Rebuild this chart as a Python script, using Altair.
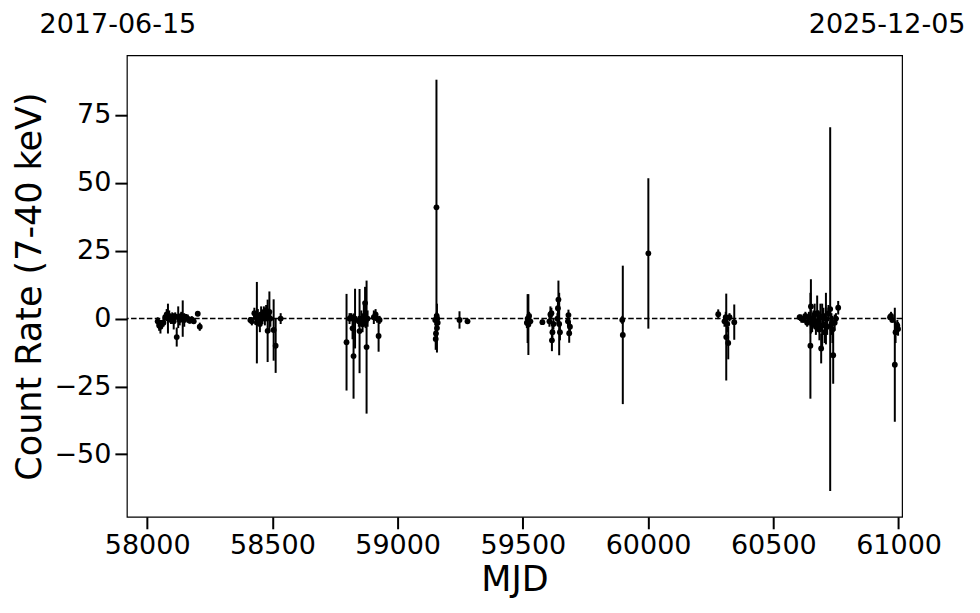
import altair as alt
import pandas as pd

mjd = [
    58042, 58048, 58053, 58058, 58065, 58072, 58078, 58083, 58088, 58095, 58100, 58106, 58112,
    58118, 58124, 58130, 58136, 58142, 58148, 58155, 58162, 58170, 58178, 58186, 58202, 58210,
    58412, 58418, 58428, 58434, 58438, 58442, 58446, 58450, 58455, 58460, 58466, 58470, 58475,
    58478, 58481, 58488, 58492, 58505, 58513, 58533,
    58796, 58808, 58814, 58820, 58824, 58830, 58845, 58848, 58855, 58860, 58865, 58870, 58872,
    58876, 58880, 58905, 58912, 58918, 58924, 58928,
    59150, 59152, 59153, 59155, 59156, 59157, 59158, 59160, 59247, 59279,
    59516, 59519, 59522, 59525, 59530, 59578, 59606, 59610, 59614, 59616, 59618, 59622, 59638,
    59640, 59642, 59645, 59648, 59680, 59682, 59685, 59688,
    59897, 59899, 60001,
    60280, 60305, 60310, 60312, 60316, 60320, 60325, 60344,
    60605, 60612, 60620, 60628, 60635, 60642, 60648, 60650, 60655, 60660, 60665, 60670, 60675,
    60680, 60684, 60688, 60691, 60695, 60700, 60705, 60710, 60715, 60720, 60727, 60732, 60736,
    60739, 60745, 60750, 60759,
    60966, 60970, 60975, 60985, 60988, 60995, 60998,
]
rate = [
    -1.0, -2.5, -3.0, -2.0, -1.5, 0.5, 1.5, 0.0, 1.0, -0.5, 0.5, -1.0, 0.8,
    -6.8, 0.5, -0.5, 1.0, 0.0, -0.5, 0.5, 0.0, -0.8, -0.3, -1.0, 1.8, -3.0,
    -0.5, -1.0, 2.0, 0.5, -1.5, 1.0, -0.5, -2.0, 1.5, 0.0, 2.5, 0.0, 3.0,
    1.5, -4.5, 2.5, 0.0, -4.2, -10.0, 0.0,
    -8.7, 0.0, 0.5, -3.6, -13.8, 0.0, -1.0, -4.6, 0.0, -2.0, 1.0, 5.7, -1.0,
    -10.5, 0.0, 0.5, 1.5, 0.0, -6.4, -0.5,
    -0.5, -7.5, -5.5, 41.0, 1.0, -3.5, 0.0, -1.5, -0.5, -1.0,
    -1.5, 0.0, -2.2, 1.0, -1.0, -1.3, -1.0, 1.5, 2.0, -8.0, -5.0, -2.0, 0.0,
    3.8, 7.0, -2.0, -5.0, -1.0, 1.3, -5.4, -3.0,
    -0.5, -6.0, 24.0,
    1.6, -1.0, 0.5, -6.8, -2.0, -9.0, 0.5, -1.3,
    0.5, 0.0, -0.5, 1.0, -1.5, 0.5, -10.0, 4.5, -2.0, 0.0, 1.5, -3.0, 2.0,
    -1.0, -4.0, 0.5, -11.0, -2.5, 1.0, -5.0, 0.0, -3.0, 2.0, 3.5, -2.0, -4.0,
    -13.5, -1.5, 0.0, 4.0,
    0.5, 1.0, -0.5, -17.0, -5.0, -2.5, -3.8,
]
err = [
    1.5, 2.0, 2.5, 1.5, 1.5, 1.2, 2.0, 5.5, 2.0, 1.5, 1.8, 3.0, 1.5,
    3.5, 4.0, 2.0, 1.5, 6.7, 2.5, 1.2, 1.5, 1.0, 1.2, 1.0, 1.0, 1.5,
    1.0, 1.5, 2.0, 1.5, 15.0, 2.5, 2.0, 3.0, 3.0, 2.0, 2.0, 2.5, 2.0,
    2.5, 11.5, 7.5, 3.0, 11.3, 10.0, 2.0,
    17.8, 2.0, 1.5, 4.0, 15.7, 11.0, 2.0, 15.5, 3.0, 3.0, 4.0, 6.0, 2.5,
    24.5, 3.0, 2.5, 2.0, 1.5, 5.8, 1.5,
    2.0, 4.0, 3.5, 47.0, 1.5, 9.0, 2.0, 2.0, 3.2, 1.0,
    2.0, 9.0, 11.2, 1.5, 1.0, 1.0, 2.0, 3.0, 2.0, 4.0, 3.0, 2.0, 2.0,
    3.0, 7.0, 11.5, 3.0, 2.0, 2.0, 3.5, 2.0,
    1.5, 25.5, 27.7,
    1.8, 2.0, 2.0, 16.0, 3.0, 6.0, 1.5, 6.5,
    1.0, 1.5, 1.0, 1.5, 1.5, 2.0, 19.5, 10.0, 3.0, 3.0, 4.0, 3.0, 6.5,
    4.0, 4.0, 5.0, 5.5, 8.0, 3.0, 4.0, 9.5, 3.0, 3.0, 67.0, 4.0, 5.0,
    10.5, 3.0, 2.0, 2.5,
    1.0, 1.5, 1.0, 21.0, 4.0, 2.0, 2.5,
]

x_ticks = [58000, 58500, 59000, 59500, 60000, 60500, 61000]
y_ticks = [-50, -25, 0, 25, 50, 75]
start_label = "2017-06-15"
end_label = "2025-12-05"

df = pd.DataFrame({"mjd": mjd, "rate": rate, "err": err})
df["lo"] = df["rate"] - df["err"]
df["hi"] = df["rate"] + df["err"]

xs = alt.Scale(domain=[57919, 61014], nice=False, zero=False)
ys = alt.Scale(domain=[-73, 97], nice=False, zero=False)

xax = alt.Axis(values=x_ticks, format="d", title="MJD", grid=False)
yax = alt.Axis(values=y_ticks, title="Count Rate (7-40 keV)", grid=False)

base = alt.Chart(df)

bars = base.mark_rule(color="black", strokeWidth=2).encode(
    x=alt.X("mjd:Q", scale=xs, axis=xax),
    y=alt.Y("lo:Q", scale=ys, axis=yax),
    y2="hi:Q",
)
pts = base.mark_circle(color="black", size=34, opacity=1).encode(
    x=alt.X("mjd:Q", scale=xs),
    y=alt.Y("rate:Q", scale=ys),
)
zero = alt.Chart(pd.DataFrame({"z": [0]})).mark_rule(
    color="black", strokeWidth=1.5, strokeDash=[5.5, 2.4]
).encode(y=alt.Y("z:Q", scale=ys))

left_txt = alt.Chart(pd.DataFrame({"t": [start_label]})).mark_text(
    fontSize=27, font="DejaVu Sans", color="black", align="center", baseline="alphabetic"
).encode(x=alt.value(-9), y=alt.value(-22), text="t:N")
right_txt = alt.Chart(pd.DataFrame({"t": [end_label]})).mark_text(
    fontSize=27, font="DejaVu Sans", color="black", align="center", baseline="alphabetic"
).encode(x=alt.value(761), y=alt.value(-22), text="t:N")

chart = alt.layer(zero, bars, pts, left_txt, right_txt).properties(
    width=776,
    height=462,
    autosize=alt.AutoSizeParams(type="none"),
    padding={"left": 119, "top": 47, "right": 70, "bottom": 88},
).configure_view(
    stroke="black", strokeWidth=1.2
).configure_axis(
    labelFont="DejaVu Sans", titleFont="DejaVu Sans",
    labelFontSize=27, titleFontSize=35, labelColor="black", titleColor="black",
    titleFontWeight="normal", tickColor="black", tickSize=12, tickWidth=2,
    domain=False, labelPadding=4,
).configure_axisX(
    titlePadding=4
).configure_axisY(
    titlePadding=6
)

chart.save("out.html", embed_options={"renderer": "svg", "actions": False})
